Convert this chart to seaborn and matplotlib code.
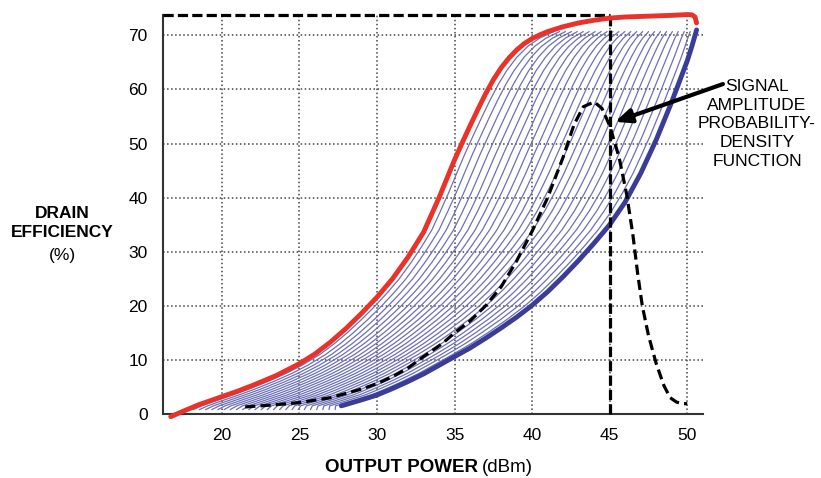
import matplotlib.pyplot as plt
import numpy as np
import pandas as pd
import seaborn as sns

# red envelope (peak efficiency vs output power)
red_x = [16.7, 17.5, 18.5, 20, 21, 22, 23.5, 25, 26, 27, 28, 29, 30, 31, 32, 33, 33.5, 34, 34.5,
         35, 35.5, 36, 36.5, 37, 37.5, 38, 38.5, 39, 39.5, 40, 40.5, 41, 42, 43, 44, 45, 46, 47,
         48, 49, 50, 50.3, 50.5, 50.6]
red_y = [-0.5, 0.5, 1.7, 3.2, 4.2, 5.3, 7.1, 9.3, 11.1, 13.3, 15.8, 18.6, 21.6, 25, 29, 33.6, 36.8,
         40, 43.5, 47, 50.2, 53.3, 56.3, 59.2, 61.8, 64, 65.8, 67.3, 68.5, 69.4, 70.1, 70.7, 71.6,
         72.3, 72.8, 73.2, 73.4, 73.5, 73.6, 73.7, 73.85, 73.8, 73.4, 72.3]

# thick blue bottom curve
blue_x = [27.7, 29, 30, 31, 32, 33, 34, 35, 36, 37, 38, 39, 40, 41, 42, 43, 44, 45, 46, 47, 48,
          48.9, 49.5, 50, 50.3, 50.6]
blue_y = [1.5, 2.6, 3.5, 4.7, 6, 7.4, 9, 10.6, 12.2, 14, 15.9, 17.9, 20.1, 22.6, 25.4, 28.4, 31.6,
          35, 39.2, 44.5, 50.7, 57, 61.5, 65.3, 68, 71]

# dashed signal amplitude PDF
pdf_x = [21.5, 23, 25, 27, 28, 29, 30, 31, 32, 33, 34.2, 35, 36, 37, 38, 39, 40, 41, 42, 42.7,
         43.3, 44, 44.5, 45, 45.6, 46.1, 46.5, 46.8, 47.1, 47.5, 48, 48.5, 48.9, 49.3, 49.7, 50]
pdf_y = [1.3, 1.6, 2.1, 3, 3.8, 4.6, 5.6, 6.9, 8.5, 10.6, 13, 15, 17.2, 20, 23.5, 28.3, 33.8, 40,
         47.5, 53.5, 56.8, 57.7, 56.5, 53.3, 47.5, 40.5, 33, 26, 20, 14.5, 9.3, 5.2, 3, 2.2, 1.9, 1.9]

# thin curves: position of each between red and blue envelope, and sampled efficiency levels
thin_frac = [0.04, 0.08, 0.12, 0.16, 0.2, 0.24, 0.28, 0.32, 0.36, 0.4, 0.44, 0.48, 0.52, 0.56,
             0.6, 0.64, 0.68, 0.72, 0.76, 0.8, 0.84, 0.88, 0.92, 0.96]
thin_levels = [0.8, 1.5, 2.5, 3.5, 4.5, 6, 7.5, 9, 11, 13, 15, 17.5, 20, 22.5, 25, 28, 31, 34, 37.5,
               41, 44.5, 48, 51.5, 55, 58, 61, 63.5, 66, 68, 69.5, 70.7]

x_ticks = [20, 25, 30, 35, 40, 45, 50]
y_ticks = [0, 10, 20, 30, 40, 50, 60, 70]

sns.set_theme(style="white")
plt.rcParams['font.family'] = ['Liberation Sans', 'DejaVu Sans']
plt.rcParams['text.color'] = 'black'

fig = plt.figure(figsize=(8.21, 4.78), dpi=100)
ax = fig.add_axes([0.1985, 0.134, 0.6575, 0.835])

n_red = red_y.index(70.7) + 1
xr = np.interp(thin_levels, red_y[:n_red], red_x[:n_red])
xb = np.interp(thin_levels, blue_y, blue_x)
rows = []
for k, f in enumerate(thin_frac):
    for lv, a, b in zip(thin_levels, xr, xb):
        rows.append({"curve": k, "x": a + f * (b - a), "y": lv})
thin = pd.DataFrame(rows)

sns.lineplot(data=thin, x="x", y="y", units="curve", estimator=None, sort=False,
             color="#6c70b6", lw=0.9, ax=ax, zorder=2)
sns.lineplot(x=blue_x, y=blue_y, sort=False, estimator=None, color="#3a3d98", lw=3.5,
             ax=ax, zorder=3)
sns.lineplot(x=pdf_x, y=pdf_y, sort=False, estimator=None, color="black", lw=2.3,
             ax=ax, zorder=4).lines[-1].set_dashes((3.2, 1.6))
red = sns.lineplot(x=red_x, y=red_y, sort=False, estimator=None, color="#e8322a", lw=3.5,
                   ax=ax, zorder=5).lines[-1]
red.set_clip_on(False)
red.set_solid_capstyle("round")

ax.plot([16.2, 45], [73.7, 73.7], color="black", lw=2.3, dashes=(3.2, 1.3), zorder=4, clip_on=False)
ax.plot([45, 45], [0, 73.7], color="black", lw=2.3, dashes=(3.2, 1.3), zorder=4, clip_on=False)

ax.set_xlim(16.2, 51.0)
ax.set_ylim(0, 73.8)
ax.set_xticks(x_ticks)
ax.set_yticks(y_ticks)
ax.grid(True, ls=":", color="#444444", lw=1.1)
ax.set_xlabel("")
ax.set_ylabel("")
sns.despine(ax=ax)
for s in ["left", "bottom"]:
    ax.spines[s].set_color("#333333")
    ax.spines[s].set_linewidth(1.5)
ax.tick_params(direction="in", length=4, width=1.2, color="#333333", labelsize=12.5,
               labelcolor="black")
ax.tick_params(axis="y", pad=11)
ax.tick_params(axis="x", pad=10)

fig.text(0.0755, 0.554, "DRAIN", ha="center", va="center", fontsize=12.5, fontweight="bold",
         color="black")
fig.text(0.0755, 0.5126, "EFFICIENCY", ha="center", va="center", fontsize=12.5, fontweight="bold",
         color="black")
fig.text(0.0755, 0.4665, "(%)", ha="center", va="center", fontsize=12.5, color="black")
fig.text(0.582, 0.023, "OUTPUT POWER", ha="right", va="center", fontsize=13.5, fontweight="bold",
         color="black")
fig.text(0.587, 0.023, "(dBm)", ha="left", va="center", fontsize=13.5, color="black")

fig.text(0.922, 0.7406, "SIGNAL\nAMPLITUDE\nPROBABILITY-\nDENSITY\nFUNCTION", ha="center",
         va="center", fontsize=12.5, linespacing=1.3, color="black")
ax.annotate("", xy=(45.35, 54.0), xytext=(52.3, 61.0), xycoords="data", textcoords="data",
            annotation_clip=False,
            arrowprops=dict(arrowstyle="-|>,head_length=0.8,head_width=0.35", color="black",
                            lw=3, shrinkA=0, shrinkB=0))

plt.savefig("out.png", dpi=100)
plt.close()
